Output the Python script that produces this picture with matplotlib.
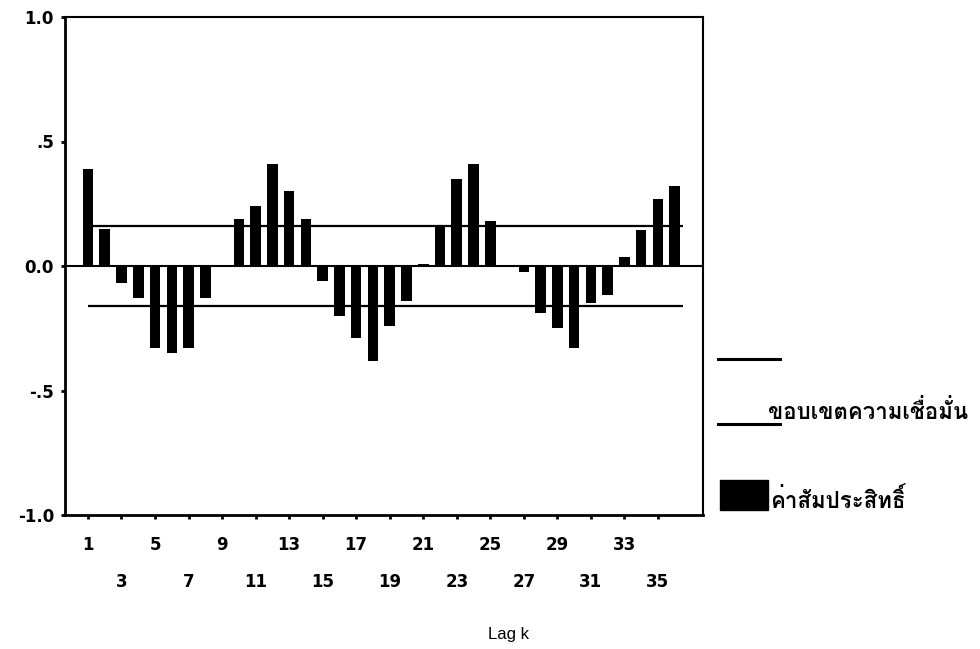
import numpy as np
import matplotlib
matplotlib.use("Agg")
import matplotlib.pyplot as plt

# ACF values
lags = np.arange(1, 37)
acf = [0.39, 0.15, -0.07, -0.13, -0.33, -0.35, -0.33, -0.13, -0.005, 0.19,
       0.24, 0.41, 0.30, 0.19, -0.06, -0.20, -0.29, -0.38, -0.24, -0.14,
       0.01, 0.16, 0.35, 0.41, 0.18, 0.0, -0.025, -0.19, -0.25, -0.33,
       -0.15, -0.115, 0.035, 0.145, 0.27, 0.32]
upper_limit = 0.16
lower_limit = -0.16

ytick_values = [-1.0, -0.5, 0.0, 0.5, 1.0]
ytick_labels = ["-1.0", "-.5", "0.0", ".5", "1.0"]
row1_lags = [1, 5, 9, 13, 17, 21, 25, 29, 33]
row2_lags = [3, 7, 11, 15, 19, 23, 27, 31, 35]

legend_limits = "ขอบเขตความเชื่อมั่น"
legend_coef = "ค่าสัมประสิทธิ์"
xlabel = "Lag k"

plt.rcParams['font.family'] = ['DejaVu Sans']

fig = plt.figure(figsize=(9.8, 6.49), dpi=100)
ax = fig.add_axes([65 / 980, 1 - 515 / 649, (703 - 65) / 980, (515 - 17) / 649])

ax.bar(lags, acf, width=0.63, color='black')
ax.axhline(0, color='black', lw=1.5)
ax.hlines([upper_limit, lower_limit], 1, 36.5, color='black', lw=1.6)

ax.set_xlim(-0.37, 37.69)
ax.set_ylim(-1.0, 1.0)
ax.set_yticks(ytick_values)
ax.set_yticklabels(ytick_labels)
ax.set_xticks(row1_lags)
ax.set_xticklabels([str(v) for v in row1_lags])
ax.set_xticks(row2_lags, minor=True)
ax.set_xticklabels([str(v) for v in row2_lags], minor=True)
ax.tick_params(axis='both', which='both', direction='out', length=3, width=2,
               labelsize=12)
ax.tick_params(axis='x', which='major', pad=12)
ax.tick_params(axis='x', which='minor', pad=39)
ax.tick_params(axis='y', pad=5)
for lab in ax.get_xticklabels(minor=True) + ax.get_xticklabels() + ax.get_yticklabels():
    lab.set_fontweight('bold')

ax.spines['left'].set_linewidth(2)
ax.spines['bottom'].set_linewidth(2)
ax.spines['top'].set_linewidth(1.5)
ax.spines['right'].set_linewidth(1.5)

fig.text(508 / 980, 1 - 635 / 649, xlabel, ha='center', va='center', fontsize=12,
         family=['Liberation Sans'])

# legend drawn in its own pixel-coordinate axes
lax = fig.add_axes([700 / 980, 1 - 560 / 649, 280 / 980, 260 / 649])
lax.set_xlim(700, 980)
lax.set_ylim(560, 300)
lax.axis('off')
lax.plot([718, 780], [359, 359], color='black', lw=2.2)
lax.plot([718, 780], [424, 424], color='black', lw=2.2)
lax.add_patch(plt.Rectangle((720, 480), 48, 30, color='black'))
thai_family = ['Loma', 'Garuda', 'DejaVu Sans']
lax.text(768, 419, legend_limits, ha='left', va='baseline', fontsize=16,
         family=thai_family, fontweight='bold')
lax.text(770, 508, legend_coef, ha='left', va='baseline', fontsize=16,
         family=thai_family, fontweight='bold')

fig.savefig("out.png", dpi=100)
